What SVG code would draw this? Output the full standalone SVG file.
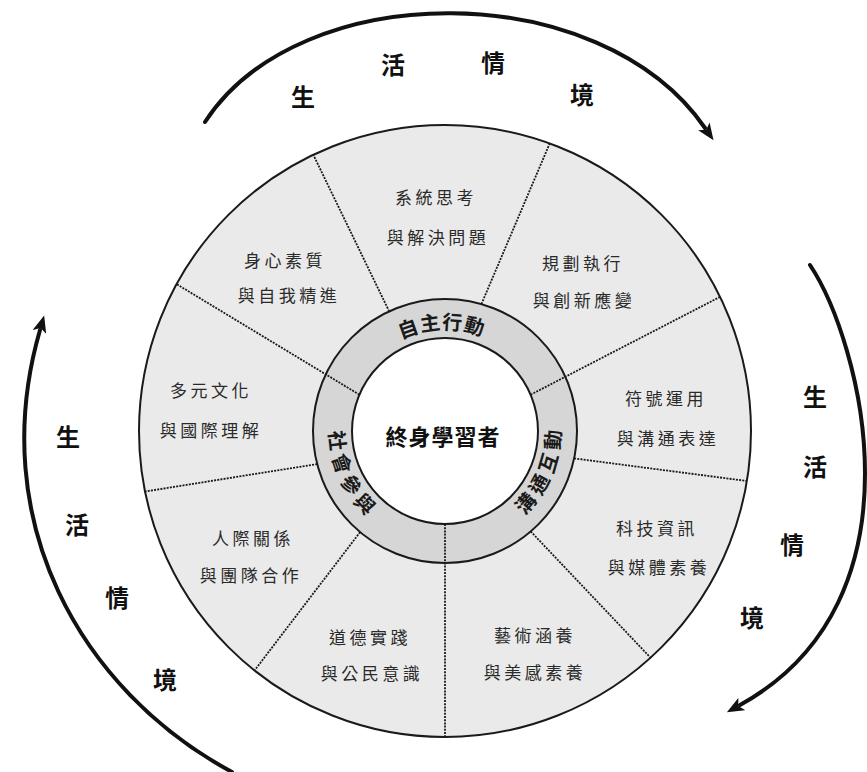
<svg xmlns="http://www.w3.org/2000/svg" width="867" height="772" viewBox="0 0 867 772">
<style>
.seg{font-family:"Noto Sans CJK TC","Noto Sans CJK SC",sans-serif;font-size:17px;fill:#2a2a2a;text-anchor:middle;letter-spacing:3.5px}
.ring{font-family:"Noto Sans CJK TC","Noto Sans CJK SC",sans-serif;font-size:20px;font-weight:bold;fill:#1a1a1a}
.ctx{font-family:"Noto Sans CJK TC","Noto Sans CJK SC",sans-serif;font-size:24px;font-weight:bold;fill:#111;text-anchor:middle}
.div{stroke:#1a1a1a;stroke-width:1.8;stroke-dasharray:2 1.2;fill:none}
.arc{stroke:#111;stroke-width:4;fill:none;stroke-linecap:round;marker-end:url(#ah)}
</style>
<defs>
<marker id="ah" markerUnits="userSpaceOnUse" markerWidth="20" markerHeight="14" refX="2" refY="7" orient="auto">
<path d="M0,0 L17,7 L0,14 L4,7 z" fill="#111"/>
</marker>
<path id="pTop" d="M343.5,431 A101.5,101.5 0 0 1 546.5,431"/>
<path id="pRight" d="M401.7,538.2 A115.6,115.6 0 0 0 488.3,323.8"/>
<path id="pLeft" d="M396.1,326.2 A115.6,115.6 0 0 0 493.9,535.8"/>
</defs>
<rect width="867" height="772" fill="#ffffff"/>

<g id="wheel">
<circle cx="445" cy="431" r="306" fill="#eaeaea" stroke="#1a1a1a" stroke-width="2"/>
<circle cx="445" cy="431" r="132" fill="#d6d6d6" stroke="#1a1a1a" stroke-width="2"/>
<circle cx="445" cy="431" r="93" fill="#ffffff" stroke="#1a1a1a" stroke-width="2"/>
</g>

<g id="dividers">
<line class="div" x1="389.2" y1="311.4" x2="313.3" y2="154.8"/>
<line class="div" x1="481.4" y1="304.1" x2="549.7" y2="143.5"/>
<line class="div" x1="530.6" y1="394.7" x2="720.0" y2="296.9"/>
<line class="div" x1="574.1" y1="458.4" x2="746.9" y2="481.0"/>
<line class="div" x1="530.7" y1="531.4" x2="650.5" y2="657.7"/>
<line class="div" x1="445" y1="524" x2="445" y2="737"/>
<line class="div" x1="360.1" y1="532.1" x2="254.5" y2="670.5"/>
<line class="div" x1="317.2" y1="464.1" x2="145.0" y2="491.5"/>
<line class="div" x1="359.4" y1="394.7" x2="176.6" y2="284.1"/>
</g>

<g id="center">
<text x="443" y="445" font-family="Noto Sans CJK TC, Noto Sans CJK SC, sans-serif" font-size="22" font-weight="bold" fill="#111" text-anchor="middle" letter-spacing="1">終身學習者</text>
</g>

<g id="ring-labels">
<g id="r-autonomy"><text class="ring" letter-spacing="1"><textPath href="#pTop" startOffset="49%" text-anchor="middle">自主行動</textPath></text></g>
<g id="r-communication"><text class="ring" letter-spacing="5"><textPath href="#pRight" startOffset="50%" text-anchor="middle">溝通互動</textPath></text></g>
<g id="r-social"><text class="ring" letter-spacing="5"><textPath href="#pLeft" startOffset="50%" text-anchor="middle">社會參與</textPath></text></g>
</g>

<g id="segments">
<g id="s1"><text class="seg" x="436" y="204">系統思考</text><text class="seg" x="438" y="244">與解決問題</text></g>
<g id="s2"><text class="seg" x="583" y="270">規劃執行</text><text class="seg" x="584" y="307">與創新應變</text></g>
<g id="s3"><text class="seg" x="666" y="405">符號運用</text><text class="seg" x="668" y="445">與溝通表達</text></g>
<g id="s4"><text class="seg" x="657" y="535">科技資訊</text><text class="seg" x="659" y="574">與媒體素養</text></g>
<g id="s5"><text class="seg" x="535" y="642">藝術涵養</text><text class="seg" x="535" y="679">與美感素養</text></g>
<g id="s6"><text class="seg" x="370" y="644">道德實踐</text><text class="seg" x="372" y="680">與公民意識</text></g>
<g id="s7"><text class="seg" x="253" y="545">人際關係</text><text class="seg" x="251" y="582">與團隊合作</text></g>
<g id="s8"><text class="seg" x="211" y="397">多元文化</text><text class="seg" x="211" y="437">與國際理解</text></g>
<g id="s9"><text class="seg" x="285" y="267">身心素質</text><text class="seg" x="289" y="302">與自我精進</text></g>
</g>

<g id="context-labels">
<g id="ctx-top"><text class="ctx" x="303" y="106">生</text><text class="ctx" x="393" y="74">活</text><text class="ctx" x="493" y="72">情</text><text class="ctx" x="582" y="104">境</text></g>
<g id="ctx-right"><text class="ctx" x="815" y="406">生</text><text class="ctx" x="815" y="476">活</text><text class="ctx" x="792" y="554">情</text><text class="ctx" x="752" y="627">境</text></g>
<g id="ctx-left"><text class="ctx" x="68" y="446">生</text><text class="ctx" x="77" y="534">活</text><text class="ctx" x="117" y="607">情</text><text class="ctx" x="165" y="689">境</text></g>
</g>

<g id="connectors">
<path class="arc" d="M205,122 C300,-24 600,-24 705,128"/>
<path class="arc" d="M810,265 C860,340 930,600 740,705"/>
<path class="arc" d="M232,772 C80,690 -15,520 40,330"/>
</g>
</svg>
